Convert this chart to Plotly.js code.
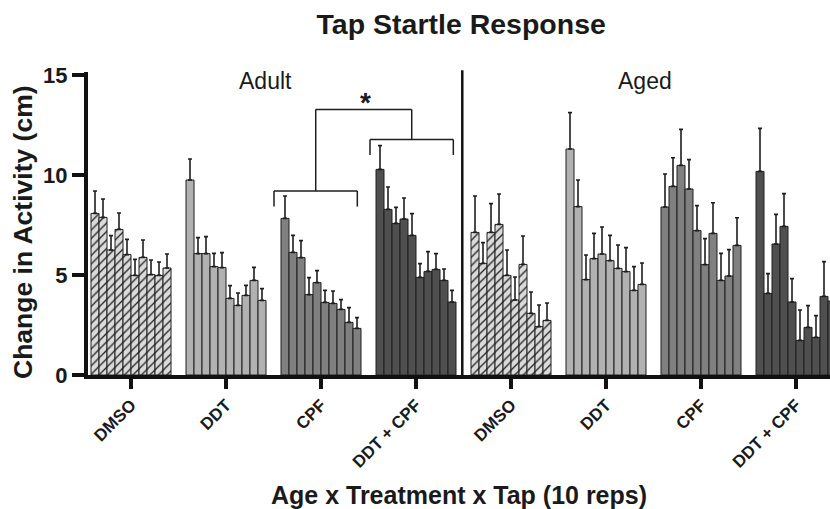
<!DOCTYPE html>
<html>
<head>
<meta charset="utf-8">
<script src="https://cdn.plot.ly/plotly-3.0.1.min.js"></script>
<style>html,body{margin:0;padding:0;background:#fff;}#chart{width:830px;height:509px;}</style>
</head>
<body>
<div id="chart"></div>
<script>
// ---- data ----
var treatments = ["DMSO", "DDT", "CPF", "DDT + CPF"];
var ages = ["Adult", "Aged"];
var taps = [1, 2, 3, 4, 5, 6, 7, 8, 9, 10];

var adultDMSO   = [8.08, 7.88, 6.25, 7.28, 6.02, 4.98, 5.88, 5.02, 4.98, 5.35];
var adultDMSOse = [1.12, 0.92, 0.72, 0.82, 0.76, 0.80, 0.87, 0.73, 0.67, 0.70];
var adultDDT    = [9.75, 6.07, 6.07, 5.42, 5.37, 3.83, 3.48, 3.98, 4.73, 3.73];
var adultDDTse  = [1.05, 0.80, 0.85, 0.66, 0.75, 0.64, 0.62, 0.50, 0.65, 0.59];
var adultCPF    = [7.83, 6.13, 5.87, 4.02, 4.62, 3.63, 3.58, 3.28, 2.63, 2.33];
var adultCPFse  = [1.12, 0.85, 0.85, 0.85, 0.60, 0.60, 0.62, 0.49, 0.74, 0.54];
var adultMix    = [10.28, 8.28, 7.58, 7.80, 6.98, 4.88, 5.18, 5.28, 4.73, 3.65];
var adultMixse  = [1.19, 1.12, 0.80, 1.05, 1.09, 0.69, 0.99, 0.79, 0.57, 0.58];

var agedDMSO    = [7.13, 5.58, 7.13, 7.53, 4.98, 3.75, 5.53, 3.08, 2.42, 2.73];
var agedDMSOse  = [1.82, 1.04, 1.44, 1.52, 1.27, 1.15, 1.42, 1.07, 1.08, 0.87];
var agedDDT     = [11.30, 8.42, 4.77, 5.82, 6.05, 5.72, 5.33, 5.17, 4.23, 4.53];
var agedDDTse   = [1.82, 1.33, 1.23, 1.26, 1.35, 1.26, 1.17, 1.20, 1.19, 1.07];
var agedCPF     = [8.40, 9.43, 10.48, 9.30, 7.22, 5.52, 7.08, 4.73, 4.95, 6.48];
var agedCPFse   = [1.65, 1.43, 1.80, 1.47, 1.25, 1.30, 1.53, 1.35, 1.32, 1.38];
var agedMix     = [10.18, 4.08, 6.55, 7.43, 3.65, 1.73, 2.38, 1.88, 3.93, 3.70];
var agedMixse   = [2.15, 0.99, 1.48, 1.64, 1.17, 1.52, 1.09, 1.09, 1.74, 1.13];

var yTicks = [0, 5, 10, 15];

// ---- styling / layout helpers ----
var FONT = "Liberation Sans, Arial, Helvetica, sans-serif";
var GROUP_STEP = 11.875;   // bar slots per group incl. gap
var fills = ["#dadada", "#b1b1b1", "#808080", "#4f4f4f"];

var groups = [
  [adultDMSO, adultDMSOse], [adultDDT, adultDDTse], [adultCPF, adultCPFse], [adultMix, adultMixse],
  [agedDMSO, agedDMSOse], [agedDDT, agedDDTse], [agedCPF, agedCPFse], [agedMix, agedMixse]
];

var traces = groups.map(function (gp, g) {
  var t = g % 4;
  var marker = {color: fills[t], line: {color: "#1e1e1e", width: 1}};
  if (t === 0) {
    marker.pattern = {shape: "/", fgcolor: "#222222", bgcolor: fills[0], size: 6, solidity: 0.22, fillmode: "replace"};
  }
  return {
    type: "bar",
    name: ages[Math.floor(g / 4)] + " " + treatments[t],
    x: taps.map(function (tp, j) { return g * GROUP_STEP + j; }),
    y: gp[0],
    width: 1,
    marker: marker,
    error_y: {type: "data", array: gp[1], arrayminus: taps.map(function () { return 0; }),
              symmetric: false, visible: true, color: "#1e1e1e", thickness: 1.6, width: 2},
    showlegend: false,
    hoverinfo: "x+y"
  };
});

var tickvals = [], ticktext = [];
for (var g = 0; g < 8; g++) { tickvals.push(g * GROUP_STEP + 4.5); ticktext.push(treatments[g % 4]); }

function seg(x0, y0, x1, y1) {
  return {type: "line", xref: "x", yref: "y", x0: x0, y0: y0, x1: x1, y1: y1,
          line: {color: "#1e1e1e", width: 1.5}};
}
var shapes = [
  // CPF bracket
  seg(22.375, 8.42, 22.375, 9.2), seg(22.375, 9.2, 32.79, 9.2), seg(32.79, 9.2, 32.79, 8.42),
  seg(27.59, 9.2, 27.59, 13.28),
  // DDT + CPF bracket
  seg(34.375, 11.0, 34.375, 11.78), seg(34.375, 11.78, 44.79, 11.78), seg(44.79, 11.78, 44.79, 11.0),
  seg(39.59, 11.78, 39.59, 13.28),
  // top bar
  seg(27.59, 13.28, 39.59, 13.28),
  // age divider
  {type: "line", xref: "x", yref: "paper", x0: 45.91, x1: 45.91, y0: 0, y1: 1.006,
   line: {color: "#111", width: 2.5}}
];

var layout = {
  width: 830, height: 509,
  margin: {l: 88, r: 0, t: 72, b: 134, pad: 0},
  paper_bgcolor: "#fff", plot_bgcolor: "#fff",
  font: {family: FONT, color: "#1a1a1a"},
  title: {text: "Tap Startle Response", font: {family: FONT, size: 28.5, weight: "bold", color: "#1a1a1a"},
          xref: "paper", x: 0.503, xanchor: "center", yref: "container", y: 0.953, yanchor: "middle"},
  bargap: 0,
  xaxis: {
    range: [-0.875, 91.875], showgrid: false, zeroline: false,
    showline: true, linecolor: "#111", linewidth: 3.5,
    tickmode: "array", tickvals: tickvals, ticktext: ticktext,
    ticks: "outside", ticklen: 10, tickwidth: 3.5, tickcolor: "#111",
    tickangle: -45, tickfont: {family: FONT, size: 17, weight: "bold", color: "#1a1a1a"},
    title: {text: "Age x Treatment x Tap (10 reps)", standoff: 20,
            font: {family: FONT, size: 25, weight: "bold", color: "#1a1a1a"}},
    automargin: false, fixedrange: true
  },
  yaxis: {
    range: [0, 15.15], showgrid: false, zeroline: false,
    showline: true, linecolor: "#111", linewidth: 4,
    tickmode: "array", tickvals: yTicks,
    ticks: "outside", ticklen: 12, tickwidth: 3.5, tickcolor: "#111",
    tickfont: {family: FONT, size: 22, weight: "bold", color: "#1a1a1a"},
    automargin: false, fixedrange: true
  },
  shapes: shapes,
  annotations: [
    {xref: "paper", yref: "paper", x: -0.0876, y: 0.472, text: "Change in Activity (cm)", textangle: -90,
     showarrow: false, font: {family: FONT, size: 26.5, weight: "bold", color: "#1a1a1a"},
     xanchor: "center", yanchor: "middle"},
    {xref: "x", yref: "y", x: 21.3, y: 14.72, text: "Adult", showarrow: false,
     font: {family: FONT, size: 23, color: "#1a1a1a"}, xanchor: "center", yanchor: "middle"},
    {xref: "x", yref: "y", x: 68.75, y: 14.72, text: "Aged", showarrow: false,
     font: {family: FONT, size: 23, color: "#1a1a1a"}, xanchor: "center", yanchor: "middle"},
    {xref: "x", yref: "y", x: 33.75, y: 13.62, text: "*", showarrow: false,
     font: {family: FONT, size: 28, weight: "bold", color: "#1a1a1a"}, xanchor: "center", yanchor: "middle"}
  ]
};

Plotly.newPlot("chart", traces, layout, {staticPlot: true, displayModeBar: false});
</script>
</body>
</html>
